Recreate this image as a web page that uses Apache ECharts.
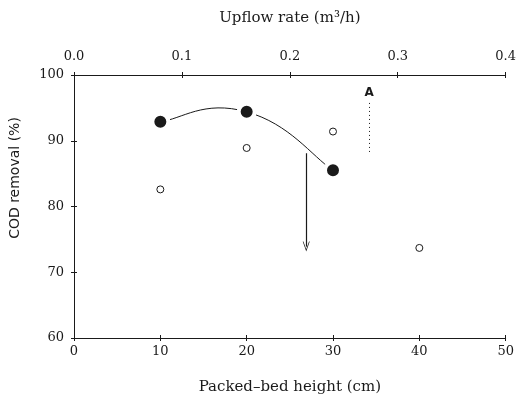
<!DOCTYPE html>
<html>
<head>
<meta charset="utf-8">
<script src="https://cdn.jsdelivr.net/npm/echarts@6/dist/echarts.min.js"></script>
<style>
  html, body { margin: 0; padding: 0; background: #fff; }
  #chart { width: 519px; height: 400px; }
</style>
</head>
<body>
<div id="chart"></div>
<script>
// Packed-bed height (cm) and COD removal (%)
const filledHeights = [10, 20, 30];
const filledRemoval = [92.9, 94.4, 85.5];
const openHeights = [10, 20, 30, 40];
const openRemoval = [82.6, 88.9, 91.4, 73.7];

// Annotation arrows: [height, start %, end %]
const downArrow = [26.9, 88.1, 73.9];
const dottedArrow = [34.2, 88.3, 95.9];
const dottedLabel = 'A';

// Axis ranges and tick steps
const heightTicks = [0, 50, 10];
const flowTicks = [0, 0.4, 0.1];
const removalTicks = [60, 100, 10];

const INK = '#1a1a1a';
const SERIF = '"DejaVu Serif", "Liberation Serif", serif';
const SANS = '"DejaVu Sans", "Liberation Sans", sans-serif';

const chart = echarts.init(document.getElementById('chart'), null, { renderer: 'canvas' });

const baseLine = { show: true, lineStyle: { color: INK, width: 1 } };
const tickOut = { show: true, inside: false, length: 3, lineStyle: { color: INK, width: 1 } };
const tickIn = { show: true, inside: true, length: 3, lineStyle: { color: INK, width: 1 } };
const tickLabel = { color: INK, fontFamily: SERIF, fontSize: 13 };

const chevron = 'path://M5,0 L10,11 L9,11 L5,2.5 L1,11 L0,11 Z';

// Cardinal spline through the filled points, drawn in pixel space
function renderTrend(params, api) {
  const pts = filledHeights.map((h, i) => api.coord([h, filledRemoval[i]]));
  const k = 0.25;
  let d = 'M' + pts[0][0] + ',' + pts[0][1];
  for (let i = 0; i < pts.length - 1; i++) {
    const p0 = pts[Math.max(i - 1, 0)];
    const p1 = pts[i];
    const p2 = pts[i + 1];
    const p3 = pts[Math.min(i + 2, pts.length - 1)];
    const c1 = [p1[0] + (p2[0] - p0[0]) * k, p1[1] + (p2[1] - p0[1]) * k];
    const c2 = [p2[0] - (p3[0] - p1[0]) * k, p2[1] - (p3[1] - p1[1]) * k];
    d += ' C' + c1[0] + ',' + c1[1] + ' ' + c2[0] + ',' + c2[1] + ' ' + p2[0] + ',' + p2[1];
  }
  return {
    type: 'path',
    shape: { pathData: d },
    style: { fill: null, stroke: INK, lineWidth: 1 }
  };
}

chart.setOption({
  animation: false,
  backgroundColor: '#fff',
  grid: { left: 74, right: 11, top: 75, bottom: 62 },
  xAxis: [
    {
      type: 'value', position: 'bottom',
      min: heightTicks[0], max: heightTicks[1], interval: heightTicks[2],
      axisLine: baseLine, axisTick: tickOut, splitLine: { show: false },
      axisLabel: Object.assign({ margin: 7 }, tickLabel),
      name: 'Packed\u2013bed height (cm)', nameLocation: 'middle', nameGap: 42,
      nameTextStyle: { color: INK, fontFamily: SERIF, fontSize: 15 }
    },
    {
      type: 'value', position: 'top',
      min: flowTicks[0], max: flowTicks[1], interval: flowTicks[2],
      axisLine: baseLine, axisTick: tickOut, splitLine: { show: false },
      axisLabel: Object.assign({ margin: 12, formatter: v => v.toFixed(1) }, tickLabel),
      name: 'Upflow rate (m\u00B3/h)', nameLocation: 'middle', nameGap: 49,
      nameTextStyle: { color: INK, fontFamily: SERIF, fontSize: 15 }
    },
    {
      type: 'value', position: 'bottom',
      min: heightTicks[0], max: heightTicks[1], interval: heightTicks[2],
      axisLine: { show: false }, axisTick: tickIn, axisLabel: { show: false }, splitLine: { show: false }
    },
    {
      type: 'value', position: 'top',
      min: flowTicks[0], max: flowTicks[1], interval: flowTicks[2],
      axisLine: { show: false }, axisTick: tickIn, axisLabel: { show: false }, splitLine: { show: false }
    }
  ],
  yAxis: [
    {
      type: 'value', position: 'left',
      min: removalTicks[0], max: removalTicks[1], interval: removalTicks[2],
      axisLine: baseLine, axisTick: tickOut, splitLine: { show: false },
      axisLabel: Object.assign({ margin: 10 }, tickLabel)
    },
    {
      type: 'value', position: 'right',
      min: removalTicks[0], max: removalTicks[1], interval: removalTicks[2],
      axisLine: baseLine, axisTick: { show: false }, axisLabel: { show: false }, splitLine: { show: false }
    },
    {
      type: 'value', position: 'left',
      min: removalTicks[0], max: removalTicks[1], interval: removalTicks[2],
      axisLine: { show: false }, axisTick: tickIn, axisLabel: { show: false }, splitLine: { show: false }
    }
  ],
  graphic: [{
    type: 'text',
    x: 15, y: 178, rotation: Math.PI / 2,
    style: {
      text: 'COD removal (%)', fill: INK,
      font: '14px ' + SANS, align: 'center', verticalAlign: 'middle'
    }
  }],
  series: [
    {
      type: 'custom', xAxisIndex: 0, yAxisIndex: 0,
      data: [0], renderItem: renderTrend, silent: true, z: 2, clip: true
    },
    {
      type: 'scatter', xAxisIndex: 0, yAxisIndex: 0,
      data: filledHeights.map((h, i) => [h, filledRemoval[i]]),
      symbol: 'circle', symbolSize: 16, z: 4,
      itemStyle: { color: INK, borderColor: '#fff', borderWidth: 4, opacity: 1 },
      emphasis: { disabled: true }
    },
    {
      type: 'scatter', xAxisIndex: 0, yAxisIndex: 0,
      data: openHeights.map((h, i) => [h, openRemoval[i]]),
      symbol: 'circle', symbolSize: 7, z: 4,
      itemStyle: { color: '#fff', borderColor: INK, borderWidth: 1, opacity: 1 },
      emphasis: { disabled: true }
    },
    {
      type: 'line', xAxisIndex: 0, yAxisIndex: 0, data: [], z: 3,
      markLine: {
        silent: true, animation: false,
        symbol: ['none', chevron], symbolSize: [7, 10],
        lineStyle: { color: INK, width: 1.2, type: 'solid' },
        label: { show: false },
        data: [[
          { coord: [downArrow[0], downArrow[1]] },
          { coord: [downArrow[0], downArrow[2]] }
        ]]
      }
    },
    {
      type: 'line', xAxisIndex: 0, yAxisIndex: 0, data: [], z: 3,
      markLine: {
        silent: true, animation: false,
        symbol: ['none', 'none'],
        lineStyle: { color: INK, width: 1, type: [1, 3] },
        label: {
          show: true, position: 'end', distance: 3, formatter: dottedLabel,
          color: INK, fontFamily: SANS, fontSize: 12, fontWeight: 'bold'
        },
        data: [[
          { coord: [dottedArrow[0], dottedArrow[1]] },
          { coord: [dottedArrow[0], dottedArrow[2]] }
        ]]
      }
    }
  ]
});
</script>
</body>
</html>
